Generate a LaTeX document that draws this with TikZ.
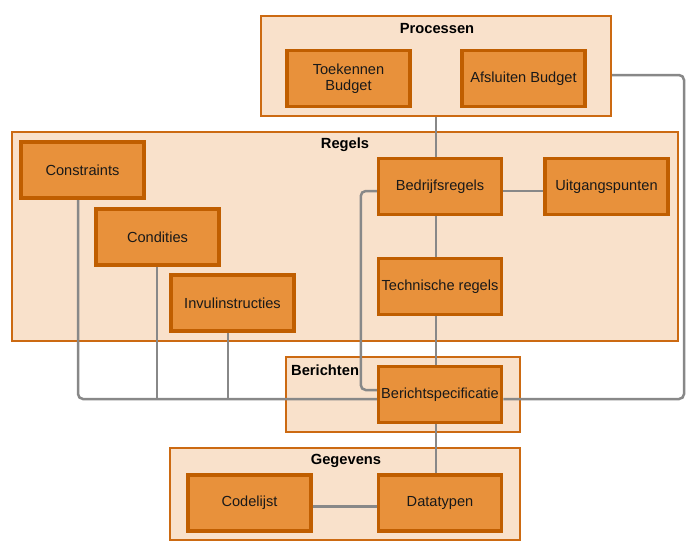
\documentclass[tikz,border=0pt]{standalone}
\usepackage{fontspec}
\setmainfont{Liberation Sans}
\usetikzlibrary{calc}
\pgfdeclarelayer{back}
\pgfdeclarelayer{mid}
\pgfsetlayers{back,mid,main}
\definecolor{cfill}{HTML}{F9E1CB}
\definecolor{cborder}{HTML}{CC6A12}
\definecolor{nfill}{HTML}{E8913B}
\definecolor{nborder}{HTML}{C05E00}
\definecolor{conn}{HTML}{888888}
\begin{document}
\begin{tikzpicture}[x=1pt,y=-1pt,
  box/.style={draw=nborder, fill=nfill, line width=3.5pt, minimum width=123pt, minimum height=56pt,
    inner sep=0pt, align=center, text=black!90, font=\fontsize{14.6}{16.5}\selectfont},
  cont/.style={draw=cborder, fill=cfill, line width=2pt, inner sep=0pt},
  ttl/.style={font=\bfseries\fontsize{14.7}{16.5}\selectfont, inner sep=0pt, text=black},
  link/.style={draw=conn, line width=2.5pt, rounded corners=5pt}]
\useasboundingbox (0,0) rectangle (700,555);

% containers
\begin{pgfonlayer}{back}
\fill[white] (0,0) rectangle (700,555);
\node[cont, minimum width=350pt, minimum height=100pt] (proc) at (436,66) {};
\node[cont, minimum width=666pt, minimum height=209pt] (regels) at (344.5,236) {};
\node[cont, minimum width=234pt, minimum height=75pt] (berc) at (403,394.5) {};
\node[cont, minimum width=350pt, minimum height=92pt] (gegc) at (344.5,494) {};
\end{pgfonlayer}

\node[ttl] (tproc) at (437,29) {Processen};
\node[ttl] (treg) at (345,145) {Regels};
\node[ttl, anchor=west] (tber) at (291,370) {Berichten};
\node[ttl] (tgeg) at (346,461) {Gegevens};

% boxes
\node[box] (toe) at (348.5,78.5) {Toekennen\\Budget};
\node[box] (afs) at (523.5,78.5) {Afsluiten Budget};
\node[box] (con) at (82.5,170) {Constraints};
\node[box] (cond) at (157.5,237) {Condities};
\node[box] (inv) at (232.5,303) {Invulinstructies};
\node[box] (bed) at (440,186.5) {Bedrijfsregels};
\node[box] (uit) at (606.5,186.5) {Uitgangspunten};
\node[box] (tech) at (440,286.5) {Technische regels};
\node[box] (ber) at (440,394.5) {Berichtspecificatie};
\node[box] (cod) at (249.5,503) {Codelijst};
\node[box] (dat) at (440,503) {Datatypen};

% connectors
\begin{pgfonlayer}{mid}
\coordinate (bus) at (0,399);
\coordinate (rr) at (684,399);
\draw[link] (proc.south) -- (proc.south |- bed.north);
\draw[link] ($(proc.east)+(0,9)$) -| (rr) -- (ber.east |- rr);
\draw[link] ($(bed.west)+(0,4.5)$) -| ($(ber.west)+(-16,-4.5)$) -- ($(ber.west)+(0,-4.5)$);
\draw[link] ($(bed.east)+(0,4.5)$) -- ($(uit.west)+(0,4.5)$);
\draw[link] ($(bed.south)+(-4,0)$) -- ($(tech.north)+(-4,0)$);
\draw[link] ($(tech.south)+(-4,0)$) -- ($(ber.north)+(-4,0)$);
\draw[link] ($(ber.south)+(-4,0)$) -- ($(dat.north)+(-4,0)$);
\draw[link] ($(cod.east)+(0,3.5)$) -- ($(dat.west)+(0,3.5)$);
\coordinate (conb) at ($(con.south)+(-4.5,0)$);
\draw[link] (conb) |- (ber.west |- bus);
\coordinate (condb) at ($(cond.south)+(-0.5,0)$);
\draw[link] (condb) -- (condb |- bus);
\coordinate (invb) at ($(inv.south)+(-4.5,0)$);
\draw[link] (invb) -- (invb |- bus);
\end{pgfonlayer}
\end{tikzpicture}
\end{document}
